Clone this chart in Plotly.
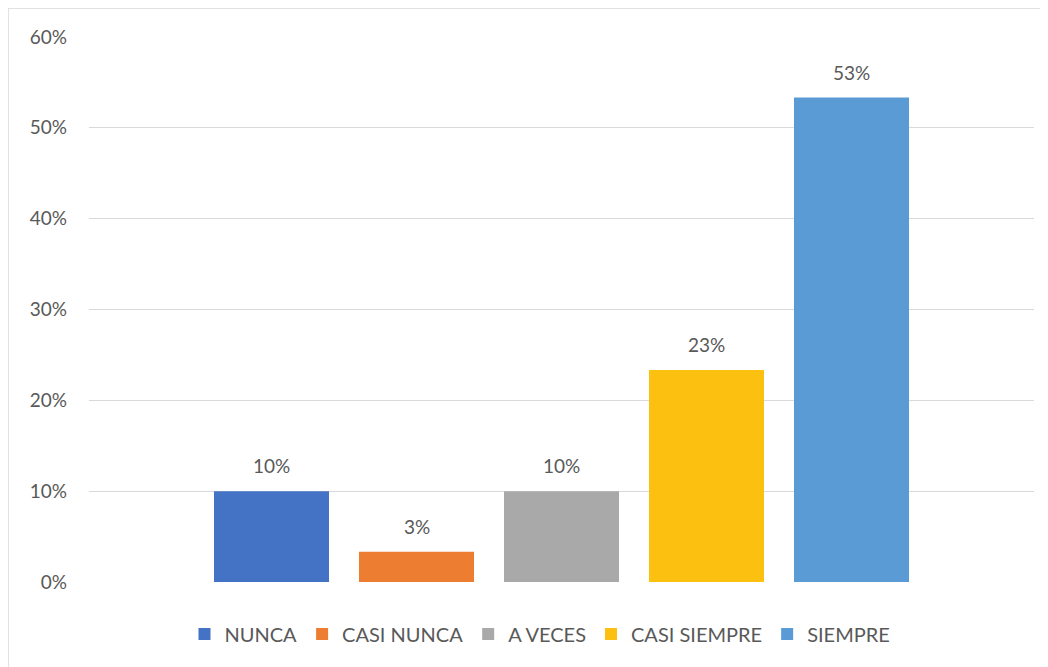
import plotly.graph_objects as go

series_names = ["NUNCA", "CASI NUNCA", "A VECES", "CASI SIEMPRE", "SIEMPRE"]
series_values = [0.10, 0.0333, 0.10, 0.2333, 0.5333]
series_colors = ["#4472C4", "#ED7D31", "#A9A9A9", "#FCC010", "#5B9BD5"]
y_ticks = [0, 0.1, 0.2, 0.3, 0.4, 0.5, 0.6]

FONT = "Lato, Calibri, sans-serif"
TXT = "#595959"

# page body has an 8px margin; compensate so the plot lands where the reference has it
OFF = 8
W, H = 1048 - OFF, 667 - OFF
L, R, T, B = 89 - OFF, 14, 37 - OFF, 85
pw = W - L - R
ph = H - T - B

slot_px = 145.0
bar_w = 115.0 / slot_px
half = pw / 2 / slot_px
mid = (len(series_names) - 1) / 2

fig = go.Figure()
annotations = []
for i, (name, val, col) in enumerate(zip(series_names, series_values, series_colors)):
    fig.add_trace(go.Bar(
        x=[i], y=[val], name=name, width=bar_w,
        marker=dict(color=col, line=dict(width=0)),
        hoverinfo="name+y",
    ))
    annotations.append(dict(
        x=i, y=val, xref="x", yref="y", text=f"{val:.0%}",
        showarrow=False, yanchor="bottom", yshift=12,
        font=dict(family=FONT, size=19, color=TXT),
    ))

fig.update_layout(
    width=W, height=H,
    margin=dict(l=L, r=R, t=T, b=B),
    paper_bgcolor="white", plot_bgcolor="white",
    font=dict(family=FONT, size=19, color=TXT),
    showlegend=True,
    legend=dict(orientation="h", x=(540 - 89) / pw, xanchor="center",
                y=-(634 - 582) / ph, yanchor="middle",
                font=dict(family=FONT, size=20, color=TXT),
                itemwidth=30, traceorder="normal"),
    xaxis=dict(range=[mid - half, mid + half], showticklabels=False,
               showgrid=False, zeroline=False, showline=False, ticks=""),
    yaxis=dict(range=[0, 0.6], tickvals=y_ticks, tickformat=".0%",
               showgrid=True, gridcolor="#D9D9D9", gridwidth=1.3,
               zeroline=False, showline=False, ticks="",
               ticklabelstandoff=21,
               tickfont=dict(family=FONT, size=19, color=TXT)),
    annotations=annotations,
    shapes=[dict(type="rect", xref="paper", yref="paper",
                 x0=-L / pw, x1=(W + 5 - L) / pw,
                 y0=-(B + 10) / ph, y1=1 + T / ph,
                 line=dict(color="#D9D9D9", width=1.5), layer="below")],
)

fig.write_html("out.html")
